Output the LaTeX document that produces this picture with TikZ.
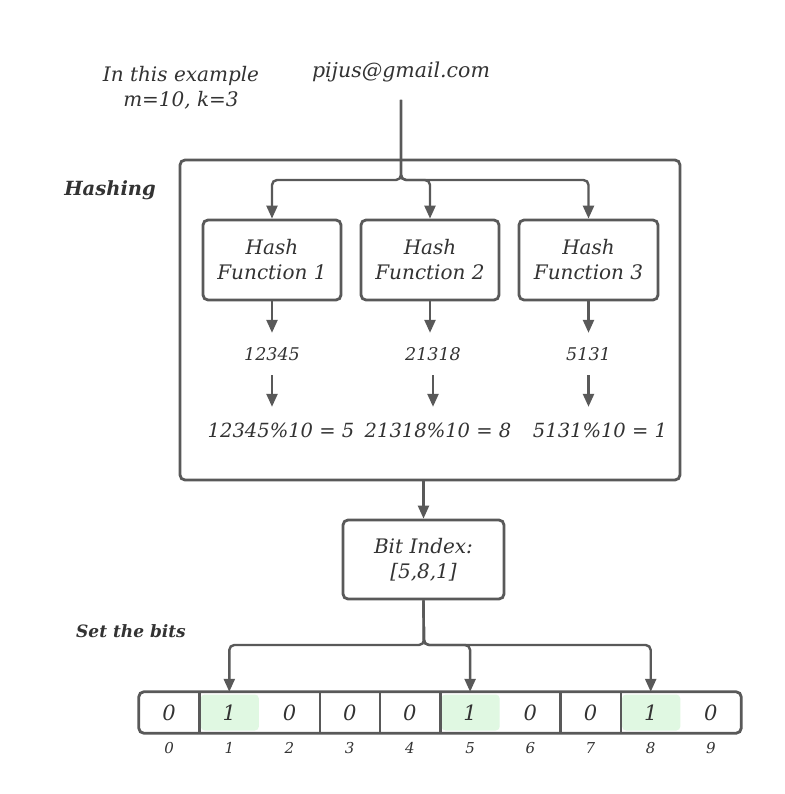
\documentclass[tikz,border=0pt]{standalone}
\usepackage{fontspec}
\setmainfont{DejaVu Serif}
\usetikzlibrary{arrows.meta,calc}
\definecolor{ln}{HTML}{595959}
\definecolor{tx}{HTML}{333333}
\definecolor{gr}{HTML}{E0F8E2}
\begin{document}
\begin{tikzpicture}[x=1pt,y=-1pt,
  txt/.style={text=tx, font=\itshape\fontsize{20}{25}\selectfont, align=center, inner sep=0pt},
  boldtxt/.style={text=tx, font=\bfseries\itshape\fontsize{19.5}{22}\selectfont, inner sep=0pt},
  box/.style={txt, draw=ln, line width=2.8pt, rounded corners=5pt},
  num/.style={txt, font=\itshape\fontsize{17.5}{22}\selectfont, minimum height=42pt},
  res/.style={txt, font=\itshape\fontsize{19.5}{22}\selectfont, minimum height=46pt},
  cell/.style={txt, font=\itshape\fontsize{21}{22}\selectfont, minimum width=60.2pt, minimum height=41pt},
  idx/.style={txt, font=\itshape\fontsize{15}{16}\selectfont},
  arr/.style={draw=ln, line width=2.4pt, -{Triangle[length=13pt,width=11pt]}}]
\fill[white] (0,0) rectangle (784,794);
\useasboundingbox (0,0) rectangle (784,794);

\node[txt] (ex) at (181,88) {In this example\\m=10, k=3};
\node[txt, font=\itshape\fontsize{20.5}{25}\selectfont] (email) at (401,72) {pijus@gmail.com};
\coordinate (src) at (401,100);
\coordinate (junc) at (401,180);

\node[box, minimum width=500pt, minimum height=320pt] (hashbox) at (430,320) {};
\node[boldtxt] (hashing) at (110,190) {Hashing};

\node[box, minimum width=138pt, minimum height=80pt] (h1) at (272,260) {Hash\\Function 1};
\node[box, minimum width=138pt, minimum height=80pt] (h2) at (430,260) {Hash\\Function 2};
\node[box, minimum width=139pt, minimum height=80pt] (h3) at (588.5,260) {Hash\\Function 3};

\draw[arr, rounded corners=5pt] (src) -- (junc) -| (h1);
\draw[arr, rounded corners=5pt] (src) -- (junc) -| (h2);
\draw[arr, rounded corners=5pt] (src) -- (junc) -| (h3);

\node[num] (n1) at (272,354) {12345};
\node[num] (n2) at (433,354) {21318};
\node[num] (n3) at (588.5,354) {5131};

\node[res] (r1) at (281,430) {12345\%10 = 5};
\node[res] (r2) at (438,430) {21318\%10 = 8};
\node[res] (r3) at (600,430) {5131\%10 = 1};

\draw[arr] (h1.south) -- (h1.south |- n1.north);
\draw[arr] (h2.south) -- (h2.south |- n2.north);
\draw[arr] (h3.south) -- (h3.south |- n3.north);
\draw[arr] (n1.south) -- (n1.south |- r1.north);
\draw[arr] (n2.south) -- (n2.south |- r2.north);
\draw[arr] (n3.south) -- (n3.south |- r3.north);

\node[box, minimum width=161pt, minimum height=79pt] (bi) at (423.5,559.5) {Bit Index:\\{[5,8,1]}};
\draw[arr] (hashbox.south -| bi) -- (bi);

\node[boldtxt, font=\bfseries\itshape\fontsize{17}{22}\selectfont] (setb) at (131,631) {Set the bits};

% green cells
\foreach \i in {1,5,8}{
  \fill[gr, rounded corners=4pt] ({139+60.2*\i+1.5},694.5) rectangle ({139+60.2*(\i+1)-0.5},730.5);
}
\foreach \i/\v in {0/0,1/1,2/0,3/0,4/0,5/1,6/0,7/0,8/1,9/0}{
  \node[cell] (c\i) at ({139+60.2*(\i+0.5)},712.5) {\v};
  \node[idx] (l\i) at ({139+60.2*(\i+0.5)},748) {\i};
}
\draw[ln, line width=2.8pt, rounded corners=5pt] (c0.north west) rectangle (c9.south east);
\foreach \i in {0,2,3,4,6,7}{
  \draw[ln, line width=2.6pt] (c\i.north east) -- (c\i.south east);
}

\coordinate (split) at (424,645);
\draw[arr, rounded corners=5pt] (bi.south) -- (split) -| (c1);
\draw[arr, rounded corners=5pt] (bi.south) -- (split) -| (c5);
\draw[arr, rounded corners=5pt] (bi.south) -- (split) -| (c8);
\end{tikzpicture}
\end{document}
